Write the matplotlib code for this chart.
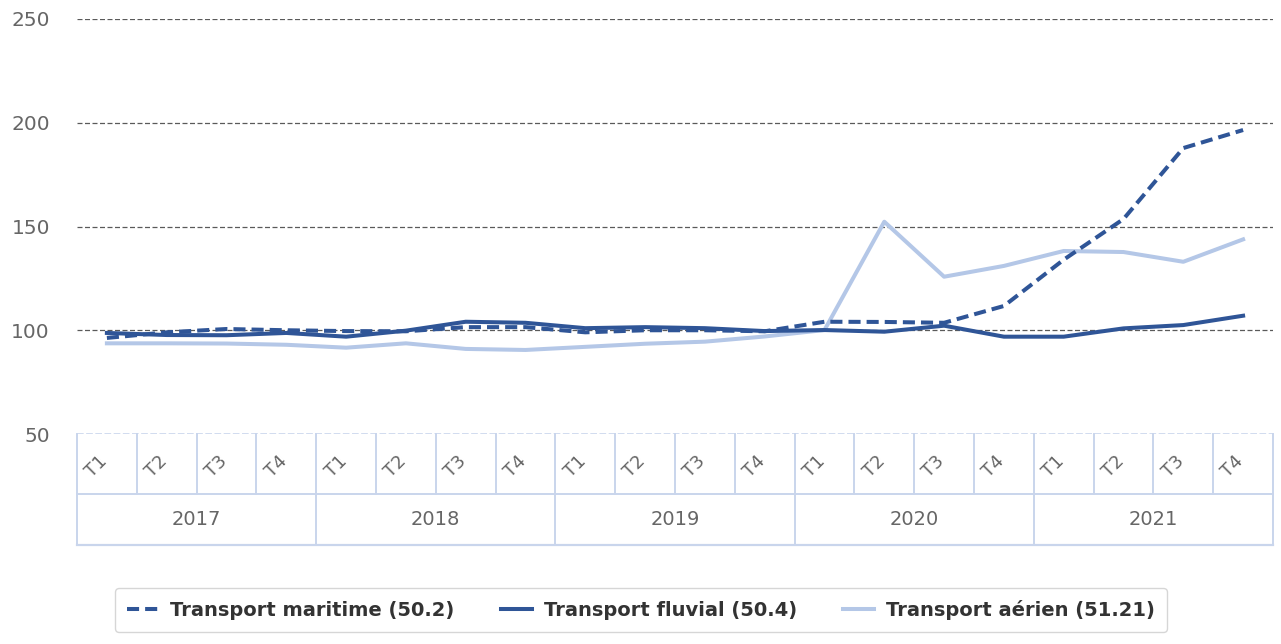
import matplotlib.pyplot as plt
import matplotlib.transforms as mtransforms

years = ['2017', '2018', '2019', '2020', '2021']
quarters = ['T1', 'T2', 'T3', 'T4']

maritime = [96.3, 99.0, 100.6, 100.0, 99.6, 99.5, 101.5, 101.5, 99.0, 100.0,
            100.0, 99.5, 104.1, 104.0, 103.6, 111.7, 134.0, 153.6, 187.8, 196.5]
fluvial = [98.7, 97.7, 97.6, 98.7, 96.9, 99.8, 104.1, 103.6, 101.0, 101.5,
           101.0, 99.6, 100.1, 99.3, 102.2, 96.9, 96.9, 100.9, 102.5, 107.0]
aerien = [93.7, 93.7, 93.6, 93.0, 91.6, 93.7, 91.0, 90.5, 92.0, 93.5,
          94.5, 97.0, 100.1, 152.3, 125.8, 131.0, 138.2, 137.7, 133.0, 143.8]

labels = ['Transport maritime (50.2)', 'Transport fluvial (50.4)', 'Transport aérien (51.21)']

dark = '#2F5597'
light = '#B4C7E7'
grid_col = '#5a5a5a'
txt_col = '#666666'
tbl_col = '#C9D5EC'

fig = plt.figure(figsize=(12.81, 6.44), dpi=100)
W, H = 1281, 644
ax = fig.add_axes([77 / W, 1 - 434 / H, (1273 - 77) / W, (434 - 19) / H])

x = list(range(len(maritime)))
ax.plot(x, maritime, color=dark, lw=2.9, dashes=(3, 1.5), label=labels[0], zorder=4)
ax.plot(x, fluvial, color=dark, lw=2.9, label=labels[1], zorder=3)
ax.plot(x, aerien, color=light, lw=2.9, label=labels[2], zorder=2)

ax.set_xlim(-0.5, len(x) - 0.5)
ax.set_ylim(50, 250)
ax.set_yticks([50, 100, 150, 200, 250])
for v in [100, 150, 200, 250]:
    ax.axhline(v, color=grid_col, lw=0.9, dashes=(4, 2), zorder=1)
ax.axhline(50, color=tbl_col, lw=1.2, dashes=(4, 1.5), zorder=1)

for s in ax.spines.values():
    s.set_visible(False)
ax.set_xticks([])
ax.tick_params(axis='y', length=0, pad=19.5, labelsize=14.5, labelcolor=txt_col)

# category table below the plot
tr = mtransforms.blended_transform_factory(ax.transData, ax.transAxes)
h = 415.0
r1 = -60 / h
r2 = -111 / h
n = len(x)
for i in range(n + 1):
    xe = i - 0.5
    y_bot = r2 if i % 4 == 0 else r1
    ax.plot([xe, xe], [0, y_bot], color=tbl_col, lw=1.4, transform=tr, clip_on=False)
ax.plot([-0.5, n - 0.5], [r1, r1], color=tbl_col, lw=1.4, transform=tr, clip_on=False)
ax.plot([-0.5, n - 0.5], [r2, r2], color=tbl_col, lw=1.6, transform=tr, clip_on=False)

for i in range(n):
    ax.text(i - 0.17, r1 / 2 - 0.005, quarters[i % 4], transform=tr, rotation=45,
            ha='center', va='center', fontsize=13, color=txt_col)
for j, yr in enumerate(years):
    ax.text(j * 4 + 1.5, (r1 + r2) / 2, yr, transform=tr, ha='center', va='center',
            fontsize=14, color=txt_col)

leg = fig.legend(loc='center', bbox_to_anchor=(641 / W, 1 - 610 / H), ncol=3,
                 frameon=True, fancybox=True, shadow=False, handlelength=1.6,
                 columnspacing=2.4, borderpad=0.6, handletextpad=0.6,
                 prop={'size': 14, 'weight': 'bold'})
leg.get_frame().set_edgecolor('#cccccc')
leg.get_frame().set_linewidth(1.0)
for t in leg.get_texts():
    t.set_color('#333333')

fig.savefig('out.png', dpi=100)
